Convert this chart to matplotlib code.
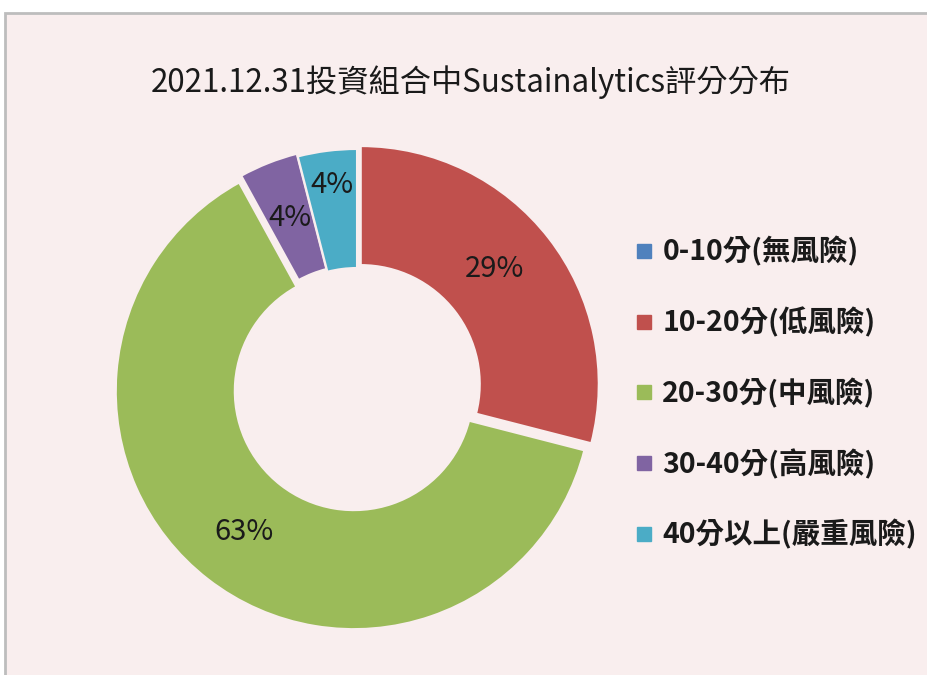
import matplotlib
matplotlib.use("Agg")
import matplotlib.pyplot as plt
from matplotlib.patches import Rectangle
from matplotlib.lines import Line2D

plt.rcParams['font.family'] = ['Noto Sans CJK TC', 'DejaVu Sans']

title = "2021.12.31投資組合中Sustainalytics評分分布"
labels = ["0-10分(無風險)", "10-20分(低風險)", "20-30分(中風險)", "30-40分(高風險)", "40分以上(嚴重風險)"]
values = [0, 29, 63, 4, 4]
colors = ["#4f81bd", "#c0504d", "#9bbb59", "#8064a2", "#4bacc6"]

bg = "#f9eeee"

fig = plt.figure(figsize=(9.28, 6.75), dpi=100)
fig.patch.set_facecolor("white")
# chart panel with grey border
fig.patches.append(Rectangle((5 / 928, -0.01), 1.0, 1 - 13 / 675 + 0.01,
                             transform=fig.transFigure, facecolor=bg,
                             edgecolor="#bdbdbd", linewidth=2, zorder=-5))

# axes sized so radius 1 ~ 238 px, centre at (357, 387)
L = 1.1
S = 2 * 238 * L
cx, cy = 357, 387
ax = fig.add_axes([(cx - S / 2) / 928, (675 - cy - S / 2) / 675, S / 928, S / 675])

wedges, texts, autotexts = ax.pie(
    values, colors=colors, startangle=90, counterclock=False,
    explode=[0, 0.02, 0.022, 0.012, 0],
    wedgeprops=dict(width=0.5, edgecolor=bg, linewidth=1.5),
    autopct=lambda p: "" if p < 0.5 else "%d%%" % round(p),
    pctdistance=0.75, textprops=dict(fontsize=21, color="#1a1a1a"))
ax.set_xlim(-L, L)
ax.set_ylim(-L, L)
ax.set_aspect("equal")
ax.axis("off")

# move the last small label outward as in the original
x, y = autotexts[-1].get_position()
autotexts[-1].set_position((x * 1.14, y * 1.14))
# red label sits a bit nearer the top in the original
x, y = autotexts[1].get_position()
autotexts[1].set_position((x * 0.95, y * 1.05))

fig.text(471 / 928, 1 - 82 / 675, title, ha="center", va="center", fontsize=22.5, color="#1a1a1a")

handles = [Line2D([], [], marker="s", linestyle="", markersize=10,
                  markerfacecolor=c, markeredgecolor=c) for c in colors]
leg = fig.legend(handles, labels, loc="center left", bbox_to_anchor=(604 / 928, 1 - 393 / 675),
                 frameon=False, handletextpad=0.15, labelspacing=1.42,
                 prop=dict(size=20.5, weight="bold"), handlelength=1.0)
for t in leg.get_texts():
    t.set_color("#1a1a1a")

fig.savefig("out.png", dpi=100, facecolor=fig.get_facecolor())
